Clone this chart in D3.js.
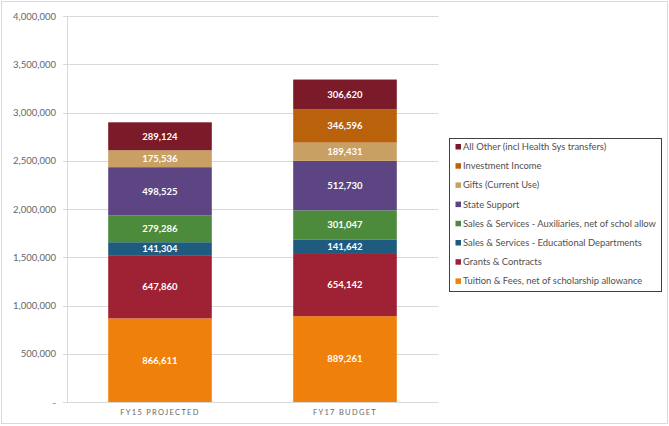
<!DOCTYPE html>
<html><head><meta charset="utf-8">
<script src="https://cdn.jsdelivr.net/npm/d3@7"></script>
<style>
html,body{margin:0;padding:0;background:#fff;}
svg{display:block;font-family:Lato,"Open Sans",sans-serif;}
</style></head>
<body>
<svg id="c" width="669" height="426"></svg>
<script>
const categories = ["FY15 PROJECTED", "FY17 BUDGET"];
const seriesNames = [
  "Tuition & Fees, net of scholarship allowance",
  "Grants & Contracts",
  "Sales & Services - Educational Departments",
  "Sales & Services - Auxiliaries, net of schol allow",
  "State Support",
  "Gifts (Current Use)",
  "Investment Income",
  "All Other (incl Health Sys transfers)"
];
const tuition = [866611, 889261];
const grants = [647860, 654142];
const salesEdu = [141304, 141642];
const salesAux = [279286, 301047];
const stateSupport = [498525, 512730];
const gifts = [175536, 189431];
const investment = [0, 346596];
const allOther = [289124, 306620];
const yTicks = [0, 500000, 1000000, 1500000, 2000000, 2500000, 3000000, 3500000, 4000000];
const colors = ["#ef800b", "#9e2233", "#1f5b7f", "#4b8b3b", "#5d4584", "#c9a064", "#b9610b", "#7b1a28"];

const seriesValues = [tuition, grants, salesEdu, salesAux, stateSupport, gifts, investment, allOther];
const table = categories.map((c, i) => {
  const row = {cat: c};
  seriesNames.forEach((s, k) => row[s] = seriesValues[k][i]);
  return row;
});

const svg = d3.select("#c");
svg.append("rect").attr("x", 1.5).attr("y", 1.5).attr("width", 666).attr("height", 422)
  .attr("fill", "none").attr("stroke", "#d9d9d9");

const x0 = 67.5, x1 = 437.5, yTop = 16, yBot = 402;
const x = d3.scaleBand().domain(categories).range([x0, x1]).paddingInner(0.44).paddingOuter(0.22);
const y = d3.scaleLinear().domain([0, 4000000]).range([yBot, yTop]);

svg.append("g").selectAll("line").data(yTicks).join("line")
  .attr("x1", 63).attr("x2", x1 + 1)
  .attr("y1", d => Math.round(y(d)) + 0.5).attr("y2", d => Math.round(y(d)) + 0.5)
  .attr("stroke", "#d9d9d9").attr("stroke-width", 1);
svg.append("line").attr("x1", x0).attr("x2", x0).attr("y1", yTop).attr("y2", yBot)
  .attr("stroke", "#d9d9d9");

const yAxis = d3.axisLeft(y).tickValues(yTicks)
  .tickFormat(d => d === 0 ? "-" : d3.format(",")(d)).tickSize(0).tickPadding(0);
const gy = svg.append("g").attr("transform", `translate(56,0)`).call(yAxis);
gy.select(".domain").remove();
gy.selectAll("text").attr("fill", "#666666").style("font-size", "9.5px")
  .style("font-family", "Lato,'Open Sans',sans-serif");

const stack = d3.stack().keys(seriesNames);
const stacked = stack(table);

const g = svg.append("g");
stacked.forEach((layer, k) => {
  g.append("g").selectAll("rect").data(layer).join("rect")
    .attr("x", d => x(d.data.cat))
    .attr("width", x.bandwidth())
    .attr("y", d => y(d[1]))
    .attr("height", d => y(d[0]) - y(d[1]))
    .attr("fill", colors[k]);
  g.append("g").selectAll("text").data(layer.filter(d => d[1] - d[0] > 0)).join("text")
    .attr("x", d => x(d.data.cat) + x.bandwidth() / 2)
    .attr("y", d => (y(d[0]) + y(d[1])) / 2)
    .attr("dy", "0.35em")
    .attr("text-anchor", "middle")
    .attr("fill", "#ffffff")
    .style("font-size", "9.5px").style("font-weight", "bold")
    .text(d => d3.format(",")(d[1] - d[0]));
});

const xAxis = d3.axisBottom(x).tickSize(0).tickPadding(0);
const gx = svg.append("g").attr("transform", `translate(0,${yBot + 8})`).call(xAxis);
gx.select(".domain").remove();
gx.selectAll("text").attr("fill", "#666666").style("font-size", "7.5px")
  .style("letter-spacing", "1.3px").style("font-family", "Lato,'Open Sans',sans-serif");

const lg = svg.append("g");
lg.append("rect").attr("x", 449.5).attr("y", 138.5).attr("width", 212).attr("height", 153)
  .attr("fill", "#fff").attr("stroke", "#404040").attr("stroke-width", 1);
const legendOrder = seriesNames.map((s, k) => ({s, k})).reverse();
const li = lg.selectAll("g.it").data(legendOrder).join("g").attr("class", "it")
  .attr("transform", (d, i) => `translate(455.5,${146.7 + i * 19.2})`);
li.append("rect").attr("x", 0).attr("y", -2.7).attr("width", 5.5).attr("height", 5.5)
  .attr("fill", d => colors[d.k]);
li.append("text").attr("x", 7.5).attr("dy", "0.35em").attr("fill", "#505050")
  .style("font-size", "9.4px").text(d => d.s);
</script>
</body></html>
